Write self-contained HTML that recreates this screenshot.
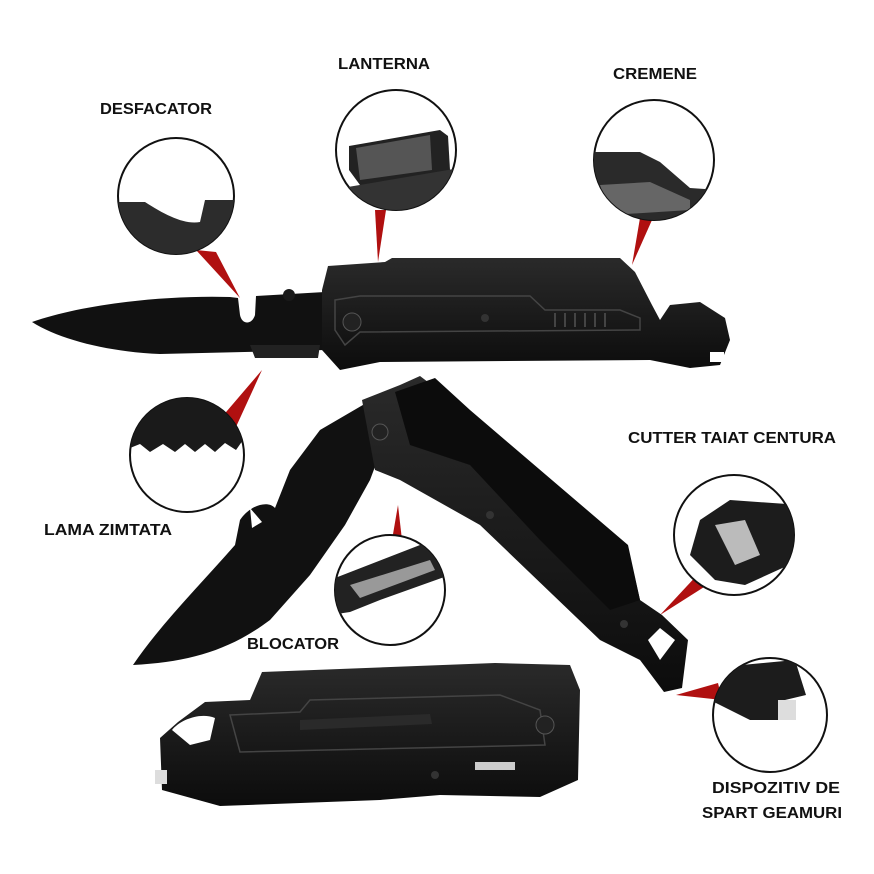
<!DOCTYPE html>
<html><head><meta charset="utf-8"><style>
html,body{margin:0;padding:0;background:#fff;width:874px;height:874px;overflow:hidden}
svg{display:block}
text{font-family:"Liberation Sans Narrow","Liberation Sans",sans-serif;font-weight:bold;font-size:16px;fill:#111}
</style></head><body>
<svg width="874" height="874" viewBox="0 0 874 874" xmlns="http://www.w3.org/2000/svg">
<defs>
<linearGradient id="g1" x1="0" y1="0" x2="0" y2="1"><stop offset="0" stop-color="#2a2a2a"/><stop offset="1" stop-color="#0c0c0c"/></linearGradient>
<clipPath id="c1"><circle cx="176" cy="196" r="58"/></clipPath>
<clipPath id="c2"><circle cx="396" cy="150" r="60"/></clipPath>
<clipPath id="c3"><circle cx="654" cy="160" r="60"/></clipPath>
<clipPath id="c4"><circle cx="187" cy="455" r="57"/></clipPath>
<clipPath id="c5"><circle cx="390" cy="590" r="55"/></clipPath>
<clipPath id="c6"><circle cx="734" cy="535" r="60"/></clipPath>
<clipPath id="c7"><circle cx="770" cy="715" r="57"/></clipPath>
</defs>
<text x="156" y="114" text-anchor="middle" textLength="112" lengthAdjust="spacingAndGlyphs">DESFACATOR</text>
<text x="384" y="69" text-anchor="middle" textLength="92" lengthAdjust="spacingAndGlyphs">LANTERNA</text>
<text x="655" y="79" text-anchor="middle" textLength="84" lengthAdjust="spacingAndGlyphs">CREMENE</text>
<text x="732" y="443" text-anchor="middle" textLength="208" lengthAdjust="spacingAndGlyphs">CUTTER TAIAT CENTURA</text>
<text x="108" y="535" text-anchor="middle" textLength="128" lengthAdjust="spacingAndGlyphs">LAMA ZIMTATA</text>
<text x="293" y="649" text-anchor="middle" textLength="92" lengthAdjust="spacingAndGlyphs">BLOCATOR</text>
<text x="776" y="793" text-anchor="middle" textLength="128" lengthAdjust="spacingAndGlyphs">DISPOZITIV DE</text>
<text x="772" y="818" text-anchor="middle" textLength="140" lengthAdjust="spacingAndGlyphs">SPART GEAMURI</text>

<polygon points="196,250 216,252 240,298" fill="#b01010"/>
<polygon points="375,210 386,210 378,262" fill="#b01010"/>
<polygon points="640,218 652,220 632,265" fill="#b01010"/>
<polygon points="215,425 230,440 262,370" fill="#b01010"/>
<polygon points="392,540 402,540 398,505" fill="#b01010"/>
<polygon points="700,572 712,582 660,615" fill="#b01010"/>
<polygon points="718,683 722,700 676,695" fill="#b01010"/>

<g stroke="#111" stroke-width="2" fill="#fff">
<circle cx="176" cy="196" r="58"/><circle cx="396" cy="150" r="60"/><circle cx="654" cy="160" r="60"/>
<circle cx="187" cy="455" r="57"/><circle cx="390" cy="590" r="55"/><circle cx="734" cy="535" r="60"/><circle cx="770" cy="715" r="57"/>
</g>
<g clip-path="url(#c1)"><path d="M110,202 L145,202 C165,215 185,225 200,222 L205,200 L240,200 L240,260 L110,260 Z" fill="#2c2c2c"/></g>
<g clip-path="url(#c2)"><path d="M349,146 L440,130 L448,136 L450,170 L420,185 L360,185 L349,170 Z" fill="#222"/>
<path d="M356,148 L430,135 L432,170 L360,180 Z" fill="#555"/>
<path d="M330,190 L460,168 L460,215 L330,215 Z" fill="#333"/></g>
<g clip-path="url(#c3)"><path d="M590,152 L640,152 L660,162 L690,188 L720,190 L720,230 L590,230 Z" fill="#2a2a2a"/>
<path d="M600,185 L650,182 L690,200 L690,210 L610,215 Z" fill="#666"/></g>
<g clip-path="url(#c4)"><path d="M125,390 L250,390 L243,440 L236,450 L225,443 L215,452 L205,444 L195,452 L185,444 L175,452 L163,444 L150,452 L140,444 L125,450 Z" fill="#1a1a1a"/></g>
<g clip-path="url(#c5)"><path d="M330,580 L420,545 L440,535 L450,575 L380,600 L350,612 L330,615 Z" fill="#222"/>
<path d="M350,585 L430,560 L435,570 L360,598 Z" fill="#999"/></g>
<g clip-path="url(#c6)"><path d="M700,520 L730,500 L800,505 L800,560 L745,585 L715,580 L690,555 Z" fill="#1c1c1c"/>
<path d="M715,525 L745,520 L760,555 L735,565 Z" fill="#bbb"/></g>
<g clip-path="url(#c7)"><path d="M710,668 L795,660 L806,695 L785,700 L780,720 L750,720 L710,700 Z" fill="#1c1c1c"/>
<rect x="778" y="700" width="18" height="20" fill="#ddd"/></g>

<!-- knife 1 -->
<path d="M32,322 C80,305 160,295 230,297 L238,298 L240,315 C242,325 252,325 255,315 L256,296 L325,292 L325,350 L160,354 C110,352 60,340 32,322 Z" fill="#111"/>
<path d="M250,345 L320,345 L318,358 L255,358 Z" fill="#222"/>
<circle cx="289" cy="295" r="6" fill="#1a1a1a"/>
<path d="M328,266 L385,262 L392,258 L620,258 L635,272 L652,305 L660,320 L670,305 L700,302 L725,318 L730,340 L720,365 L690,368 L650,360 L380,362 L340,370 L322,350 L322,290 Z" fill="url(#g1)"/>
<path d="M335,300 L360,296 L530,296 L545,310 L620,310 L640,318 L640,330 L360,332 L345,345 L335,330 Z" fill="none" stroke="#444" stroke-width="1.5"/>
<circle cx="352" cy="322" r="9" fill="#222" stroke="#555"/>
<circle cx="485" cy="318" r="4" fill="#333"/>
<rect x="710" y="352" width="14" height="10" fill="#fff"/>
<g stroke="#444" stroke-width="2"><line x1="555" y1="313" x2="555" y2="327"/><line x1="565" y1="313" x2="565" y2="327"/><line x1="575" y1="313" x2="575" y2="327"/><line x1="585" y1="313" x2="585" y2="327"/><line x1="595" y1="313" x2="595" y2="327"/><line x1="605" y1="313" x2="605" y2="327"/></g>

<!-- knife 2 -->
<path d="M133,665 C160,625 200,585 235,545 L240,520 C250,505 268,500 275,508 L290,470 L320,430 L368,402 L385,440 L370,480 L345,525 L310,575 L270,620 C230,650 190,662 133,665 Z" fill="#111"/>
<path d="M250,508 L262,522 L252,528 Z" fill="#fff"/>
<path d="M362,400 L400,385 L420,376 L445,395 L470,412 L628,548 L640,600 L662,615 L688,640 L682,688 L664,692 L640,660 L600,640 L480,525 L400,480 L375,470 Z" fill="url(#g1)"/>
<path d="M395,392 L435,378 L470,410 L628,545 L640,600 L610,610 L540,540 L470,465 L410,445 Z" fill="#0c0c0c"/>
<circle cx="380" cy="432" r="8" fill="#222" stroke="#555"/>
<circle cx="490" cy="515" r="4" fill="#333"/>
<circle cx="624" cy="624" r="4" fill="#333"/>
<path d="M648,640 L660,628 L675,640 L660,660 Z" fill="#fff"/>

<!-- knife 3 -->
<path d="M160,738 L178,722 L205,702 L250,700 L262,672 L495,663 L570,665 L580,690 L578,780 L540,797 L440,795 L380,800 L220,806 L162,790 Z" fill="url(#g1)"/>
<path d="M172,730 C180,720 200,712 215,718 L210,740 L190,745 Z" fill="#fff"/>
<path d="M230,715 L300,712 L310,700 L500,695 L540,710 L545,745 L240,752 Z" fill="none" stroke="#444" stroke-width="1.5"/>
<path d="M300,720 L430,714 L432,724 L300,730 Z" fill="#2a2a2a"/>
<circle cx="545" cy="725" r="9" fill="#222" stroke="#555"/>
<rect x="475" y="762" width="40" height="8" fill="#ccc"/>
<rect x="155" y="770" width="12" height="14" fill="#ddd"/>
<circle cx="435" cy="775" r="4" fill="#333"/>
</svg>
</body></html>
